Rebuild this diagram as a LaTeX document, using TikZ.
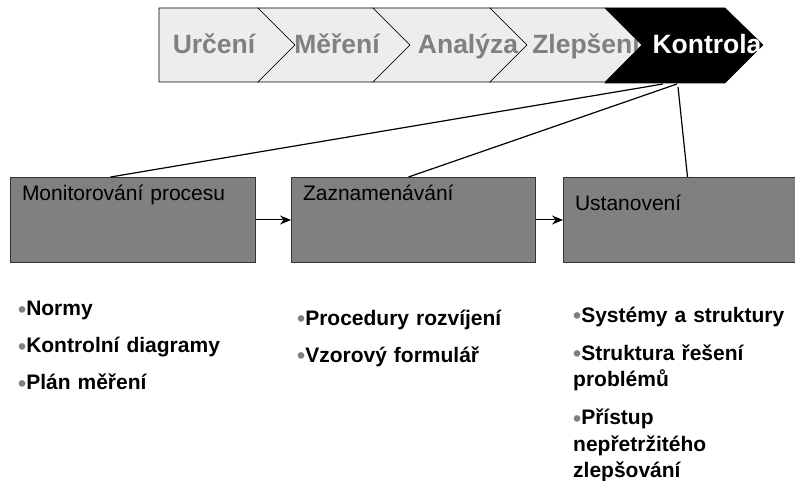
\documentclass[tikz,border=0pt]{standalone}
\usepackage{fontspec}
\setmainfont{Liberation Sans}
\usetikzlibrary{positioning, arrows.meta}

\definecolor{chevfill}{HTML}{EDEDED}
\definecolor{chevtext}{HTML}{808080}
\definecolor{boxfill}{HTML}{808080}
\definecolor{boxline}{HTML}{333333}

\newcommand{\bulletdot}{{\color{chevtext}\fontsize{23}{23}\selectfont\raisebox{-1.5pt}{\textbullet}}}

\begin{document}
\begin{tikzpicture}[
  x=1pt, y=-1pt,
  >=Stealth,
  chev/.style={draw=black, line width=0.6pt, fill=#1},
  ctxt/.style={font=\bfseries\fontsize{26.5}{30}\selectfont, text=chevtext,
               anchor=base, inner sep=0pt},
  box/.style={draw=boxline, line width=1pt, fill=boxfill, align=left,
              font=\fontsize{21}{25}\selectfont, inner ysep=0pt, inner xsep=11.5pt},
  arr/.style={-{Stealth[length=11pt, width=9pt]}, line width=1pt},
  fan/.style={line width=1.2pt},
  blt/.style={anchor=base west, inner sep=0pt, align=left, text width=222pt,
              font=\bfseries\fontsize{21}{26.5}\selectfont},
]
\useasboundingbox (0,0) rectangle (795,481);

%% ===== TOP: PHASE CHEVRONS =====

\draw[chev=chevfill] (159,8) -- (258,8) -- (295,45) -- (258,82) -- (159,82) -- cycle;
\foreach \l/\r in {258/373, 373/490, 490/605}
  \draw[chev=chevfill] (\l,8) -- (\r,8) -- (\r+37,45) -- (\r,82) -- (\l,82) -- (\l+37,45) -- cycle;

\node[ctxt] (urc) at (214,54) {Určení};
\node[ctxt] (mer) at (337,54) {Měření};
\node[ctxt] (ana) at (468,54) {Analýza};
\node[ctxt] (zle) at (586,54) {Zlepšení};

\draw[chev=black] (605,8) -- (725,8) -- (763,45) -- (725,83) -- (605,83) -- (642,45) -- cycle;
\node[ctxt, text=white] (kon) at (707,54) {Kontrola};

\coordinate (konbot) at (670,84);

%% ===== MIDDLE: STEP BOXES =====

\node[box, anchor=north west, text width=222pt, text height=23.5pt, text depth=61.5pt]
  (mon) at (10,177) {Monitorování procesu};
\node[box, text width=221pt, text height=23.5pt, text depth=61.5pt, right=35pt of mon]
  (zaz) {Zaznamenávání};
\node[box, text width=216pt, text height=33.5pt, text depth=51.5pt, right=27pt of zaz]
  (ust) {Ustanovení};

%% ===== BOTTOM: BULLET LISTS =====

\node[blt] (mlist) at (18,315.5)
  {\bulletdot Normy\\[10.5pt]
   \bulletdot Kontrolní diagramy\\[10.5pt]
   \bulletdot Plán měření};

\node[blt] (zlist) at (297,325)
  {\bulletdot Procedury rozvíjení\\[10.5pt]
   \bulletdot Vzorový formulář};

\node[blt] (ulist) at (573,322)
  {\bulletdot Systémy a struktury\\[11.5pt]
   \bulletdot Struktura řešení\\problémů\\[11.5pt]
   \bulletdot Přístup\\nepřetržitého\\zlepšování};

%% ===== CONNECTORS =====

\draw[fan] ([xshift=-7pt]konbot) -- ([xshift=-22.5pt]mon.north);
\draw[fan] ([xshift=7pt]konbot)  -- ([xshift=-5pt]zaz.north);
\draw[fan] ([xshift=8pt,yshift=-3pt]konbot) -- ([xshift=4.5pt]ust.north);

\draw[arr] (mon) -- (zaz);
\draw[arr] (zaz) -- (ust);

\end{tikzpicture}
\end{document}
